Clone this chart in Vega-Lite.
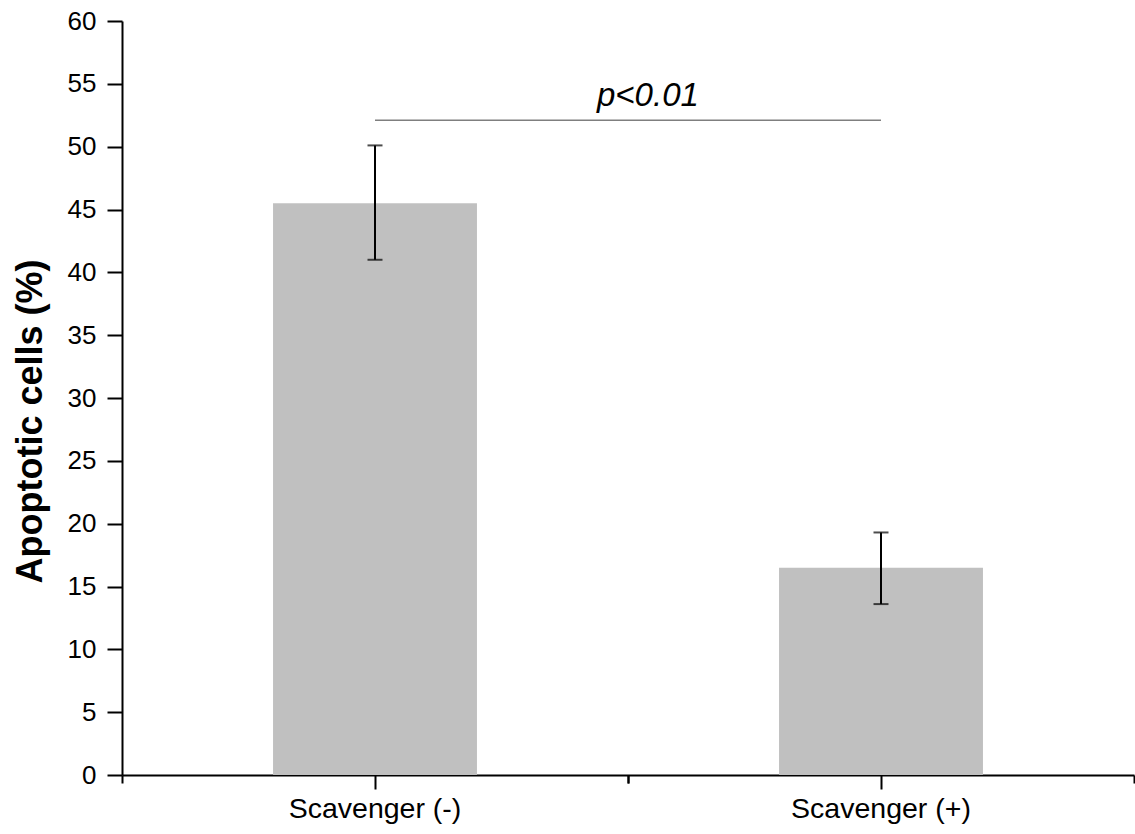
{
  "$schema": "https://vega.github.io/schema/vega-lite/v6.json",
  "width": 1012,
  "height": 754,
  "autosize": "none",
  "padding": {"left": 122, "top": 21, "right": 1, "bottom": 59},
  "background": "white",
  "datasets": {
    "groups": [
      {"group": "Scavenger (-)", "mean": 45.5, "lo": 41.0, "hi": 50.1},
      {"group": "Scavenger (+)", "mean": 16.5, "lo": 13.6, "hi": 19.3}
    ],
    "comparison": [
      {"from": "Scavenger (-)", "to": "Scavenger (+)", "level": 52.1, "labelLevel": 53.2, "label": "p<0.01"}
    ]
  },
  "config": {
    "view": {"stroke": null},
    "font": "Liberation Sans",
    "axis": {
      "domainColor": "#000000",
      "domainWidth": 2,
      "tickColor": "#000000",
      "tickWidth": 2,
      "grid": false,
      "labelColor": "#000000",
      "labelFont": "Liberation Sans",
      "titleColor": "#000000",
      "titleFont": "Liberation Sans"
    }
  },
  "layer": [
    {
      "data": {"name": "groups"},
      "mark": {"type": "bar", "color": "#c0c0c0"},
      "encoding": {
        "x": {
          "field": "group",
          "type": "nominal",
          "scale": {"domain": ["Scavenger (-)", "Scavenger (+)"], "paddingInner": 0.597, "paddingOuter": 0.2985},
          "axis": {
            "orient": "bottom",
            "title": null,
            "labelAngle": 0,
            "labelFontSize": 28.5,
            "labelPadding": 5,
            "tickSize": 14
          }
        },
        "y": {
          "field": "mean",
          "type": "quantitative",
          "scale": {"domain": [0, 60], "nice": false},
          "axis": {
            "title": "Apoptotic cells (%)",
            "titleFontSize": 36,
            "titleFontWeight": "bold",
            "titlePadding": 18,
            "titleY": 400,
            "values": [0, 2.5, 5, 7.5, 10, 12.5, 15, 17.5, 20, 22.5, 25, 27.5, 30, 32.5, 35, 37.5, 40, 42.5, 45, 47.5, 50, 52.5, 55, 57.5, 60],
            "labelExpr": "datum.value % 5 === 0 ? datum.label : ''",
            "labelFontSize": 26,
            "labelPadding": 11,
            "tickSize": {"condition": {"test": "datum.value % 5 === 0", "value": 15}, "value": 8}
          }
        }
      }
    },
    {
      "data": {"name": "groups"},
      "mark": {"type": "rule", "color": "#000000", "strokeWidth": 2},
      "encoding": {
        "x": {"field": "group", "type": "nominal", "axis": null},
        "y": {"field": "lo", "type": "quantitative"},
        "y2": {"field": "hi"}
      }
    },
    {
      "data": {"name": "groups"},
      "mark": {"type": "tick", "color": "#000000", "orient": "horizontal", "size": 15, "thickness": 2},
      "encoding": {
        "x": {
          "field": "group",
          "type": "nominal",
          "axis": {
            "orient": "bottom",
            "title": null,
            "labels": false,
            "domain": false,
            "tickOffset": 253,
            "tickSize": 8
          }
        },
        "y": {"field": "lo", "type": "quantitative"}
      }
    },
    {
      "data": {"name": "groups"},
      "mark": {"type": "tick", "color": "#000000", "orient": "horizontal", "size": 15, "thickness": 2},
      "encoding": {
        "x": {
          "field": "group",
          "type": "nominal",
          "axis": {
            "orient": "bottom",
            "title": null,
            "labels": false,
            "domain": false,
            "tickOffset": -253,
            "tickSize": 8
          }
        },
        "y": {"field": "hi", "type": "quantitative"}
      }
    },
    {
      "data": {"name": "comparison"},
      "mark": {"type": "rule", "color": "#7f7f7f", "strokeWidth": 1.5},
      "encoding": {
        "x": {"field": "from", "type": "nominal", "axis": null},
        "x2": {"field": "to"},
        "y": {"field": "level", "type": "quantitative"}
      }
    },
    {
      "data": {"name": "comparison"},
      "mark": {"type": "text", "align": "left", "baseline": "alphabetic", "dx": 222, "fontSize": 33, "fontStyle": "italic", "color": "#000000"},
      "encoding": {
        "x": {"field": "from", "type": "nominal", "axis": null},
        "y": {"field": "labelLevel", "type": "quantitative"},
        "text": {"field": "label"}
      }
    }
  ],
  "resolve": {"axis": {"x": "independent"}}
}
